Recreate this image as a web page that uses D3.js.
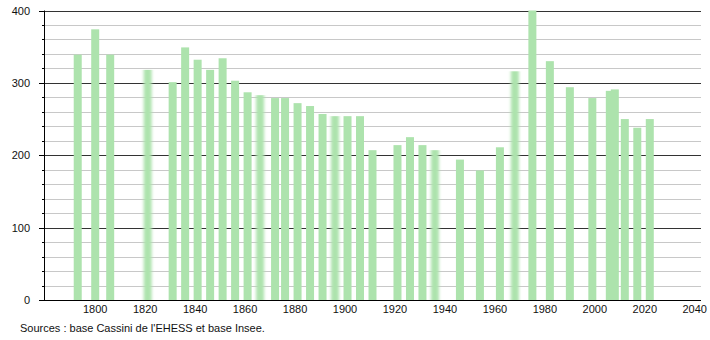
<!DOCTYPE html>
<html>
<head>
<meta charset="utf-8">
<script src="https://cdn.jsdelivr.net/npm/d3@7"></script>
<style>
  body { margin: 0; background: #fff; }
  text { font-family: "Liberation Sans", Arial, sans-serif; font-size: 11px; fill: #111; }
</style>
</head>
<body>
<script>
// population by census year
var years = [1793, 1800, 1806, 1821, 1831, 1836, 1841, 1846, 1851, 1856,
             1861, 1866, 1872, 1876, 1881, 1886, 1891, 1896, 1901, 1906,
             1911, 1921, 1926, 1931, 1936, 1946, 1954, 1962, 1968, 1975,
             1982, 1990, 1999, 2006, 2008, 2012, 2017, 2022];
var population = [339, 374, 339, 318, 301, 349, 332, 318, 334, 303,
                  287, 283, 279, 279, 272, 268, 257, 254, 254, 254,
                  207, 214, 225, 214, 207, 194, 179, 211, 316, 400,
                  330, 294, 279, 289, 291, 250, 238, 250];
// bars that look smeared in the original
var blurredYears = [1821, 1866, 1896, 1936, 1968];
var xTicks = [1800, 1820, 1840, 1860, 1880, 1900, 1920, 1940, 1960, 1980, 2000, 2020, 2040];
var yTicks = [0, 100, 200, 300, 400];
var sourceText = "Sources : base Cassini de l'EHESS et base Insee.";

var width = 710, height = 340;
var plotLeft = 44, plotRight = 701, plotTop = 10.5, plotBottom = 300;

var svg = d3.select("body").append("svg")
    .attr("width", width)
    .attr("height", height);

var defs = svg.append("defs");
defs.append("filter").attr("id", "smear")
    .attr("x", "-50%").attr("width", "200%")
    .append("feGaussianBlur").attr("stdDeviation", "1.6 0");

var x = d3.scaleLinear().domain([1779.5, 2042.5]).range([plotLeft, plotRight]);
var y = d3.scaleLinear().domain([0, 400]).range([plotBottom, plotTop]);

function py(d) { return Math.round(y(d)) + 0.5; }

// minor grid every 20
var minor = d3.range(20, 400, 20).filter(function(v) { return v % 100 !== 0; });
svg.append("g").selectAll("line")
    .data(minor)
    .enter().append("line")
    .attr("x1", plotLeft).attr("x2", plotRight)
    .attr("y1", py).attr("y2", py)
    .attr("stroke", "#c8c8c8");

svg.append("g").selectAll("line")
    .data(yTicks.slice(1))
    .enter().append("line")
    .attr("x1", plotLeft).attr("x2", plotRight)
    .attr("y1", py).attr("y2", py)
    .attr("stroke", "#333");

// bars
svg.append("g").selectAll("rect")
    .data(years)
    .enter().append("rect")
    .attr("x", function(d) { return x(d) - 4; })
    .attr("width", 8)
    .attr("y", function(d, i) { return y(population[i]); })
    .attr("height", function(d, i) { return plotBottom - y(population[i]); })
    .attr("fill", "#ade3ad")
    .attr("filter", function(d) { return blurredYears.indexOf(d) >= 0 ? "url(#smear)" : null; });

// y axis
var yAxis = svg.append("g");
yAxis.append("line")
    .attr("x1", plotLeft + 0.5).attr("x2", plotLeft + 0.5)
    .attr("y1", plotTop).attr("y2", plotBottom)
    .attr("stroke", "#000");
yAxis.selectAll("line.minor")
    .data(minor)
    .enter().append("line")
    .attr("class", "minor")
    .attr("x1", plotLeft - 2).attr("x2", plotLeft)
    .attr("y1", py).attr("y2", py)
    .attr("stroke", "#000");
yAxis.selectAll("line.major")
    .data(yTicks)
    .enter().append("line")
    .attr("class", "major")
    .attr("x1", plotLeft - 5).attr("x2", plotLeft)
    .attr("y1", py).attr("y2", py)
    .attr("stroke", "#000");
yAxis.selectAll("text")
    .data(yTicks)
    .enter().append("text")
    .attr("x", 30)
    .attr("y", function(d) { return y(d) + 4; })
    .attr("text-anchor", "end")
    .text(function(d) { return d; });

// x axis
svg.append("line")
    .attr("x1", plotLeft - 5).attr("x2", plotRight)
    .attr("y1", plotBottom + 0.5).attr("y2", plotBottom + 0.5)
    .attr("stroke", "#000");
svg.append("g").selectAll("text")
    .data(xTicks)
    .enter().append("text")
    .attr("x", function(d) { return x(d); })
    .attr("y", 313)
    .attr("text-anchor", "middle")
    .text(function(d) { return d; });

svg.append("text")
    .attr("x", 20)
    .attr("y", 332)
    .text(sourceText);
</script>
</body>
</html>
